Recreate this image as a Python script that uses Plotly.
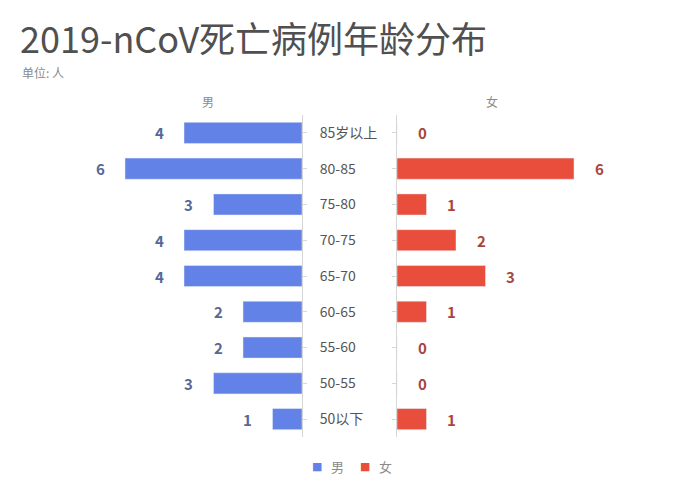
import plotly.graph_objects as go

# age groups, top to bottom
ages = ['85岁以上', '80-85', '75-80', '70-75', '65-70', '60-65', '55-60', '50-55', '50以下']
male = [4, 6, 3, 4, 4, 2, 2, 3, 1]
female = [0, 6, 1, 2, 3, 1, 0, 0, 1]

BLUE = '#6382e8'
RED = '#e94e3c'
BLUE_TXT = '#56679a'
RED_TXT = '#a8463c'
GRAY = '#8a8a8a'
FONT = 'Noto Sans CJK SC'

W, H = 700, 485
OFF = 8  # page body margin


def px_x(p):
    return (p - OFF) / W


def px_y(p):
    return 1 - (p - OFF) / H


fig = go.Figure()
fig.add_trace(go.Bar(y=ages, x=male, orientation='h', name='男', marker_color=BLUE,
                     xaxis='x', yaxis='y', hoverinfo='skip'))
fig.add_trace(go.Bar(y=ages, x=female, orientation='h', name='女', marker_color=RED,
                     xaxis='x2', yaxis='y2', hoverinfo='skip'))

# value labels
for a, m, f in zip(ages, male, female):
    fig.add_annotation(x=m, y=a, xref='x', yref='y', text=f'<b>{m}</b>', showarrow=False,
                       xshift=-25, font=dict(family=FONT, size=15, color=BLUE_TXT))
    fig.add_annotation(x=f, y=a, xref='x2', yref='y2', text=f'<b>{f}</b>', showarrow=False,
                       xshift=25, font=dict(family=FONT, size=15, color=RED_TXT))

ydom = [px_y(437), px_y(115)]
fig.update_layout(
    width=W, height=H,
    margin=dict(l=0, r=0, t=0, b=0),
    paper_bgcolor='white', plot_bgcolor='white',
    font=dict(family=FONT, color='#555555'),
    bargap=0.41,
    showlegend=False,
    xaxis=dict(domain=[px_x(302 - 7 * 29.5), px_x(302)], range=[7, 0], visible=False),
    xaxis2=dict(domain=[px_x(397), px_x(397 + 7 * 29.5)], range=[0, 7], visible=False),
    yaxis=dict(domain=ydom, anchor='x', side='right', categoryorder='array',
               categoryarray=ages[::-1], showline=True, linecolor='#d6d6d6', linewidth=1,
               ticks='outside', ticklen=4, tickcolor='#d6d6d6', showgrid=False,
               ticklabelstandoff=10, tickfont=dict(size=14, color='#555555')),
    yaxis2=dict(domain=ydom, anchor='x2', side='left', categoryorder='array',
                categoryarray=ages[::-1], showline=True, linecolor='#d6d6d6', linewidth=1,
                ticks='outside', ticklen=4, tickcolor='#d6d6d6', showgrid=False,
                showticklabels=False),
)

fig.add_annotation(text='2019-nCoV死亡病例年龄分布', xref='paper', yref='paper',
                   x=px_x(18), y=px_y(37), xanchor='left', yanchor='middle', showarrow=False,
                   font=dict(family=FONT, size=36, color='#505050'))
fig.add_annotation(text='单位: 人', xref='paper', yref='paper',
                   x=px_x(20), y=px_y(73), xanchor='left', yanchor='middle', showarrow=False,
                   font=dict(family=FONT, size=12, color=GRAY))
fig.add_annotation(text='男', xref='paper', yref='paper', x=px_x(200), y=px_y(102),
                   yanchor='middle', showarrow=False, font=dict(family=FONT, size=12, color=GRAY))
fig.add_annotation(text='女', xref='paper', yref='paper', x=px_x(500), y=px_y(102),
                   yanchor='middle', showarrow=False, font=dict(family=FONT, size=12, color=GRAY))

# compact legend at the bottom
legend_items = [('男', BLUE, 317), ('女', RED, 365)]
for name, color, lx in legend_items:
    fig.add_annotation(text='■', xref='paper', yref='paper', x=px_x(lx), y=px_y(466),
                       yanchor='middle', showarrow=False, font=dict(family='DejaVu Sans', size=11, color=color))
    fig.add_annotation(text=name, xref='paper', yref='paper', x=px_x(lx + 12), y=px_y(466),
                       xanchor='left', yanchor='middle', showarrow=False,
                       font=dict(family=FONT, size=13, color=GRAY))

fig.write_html('out.html')
